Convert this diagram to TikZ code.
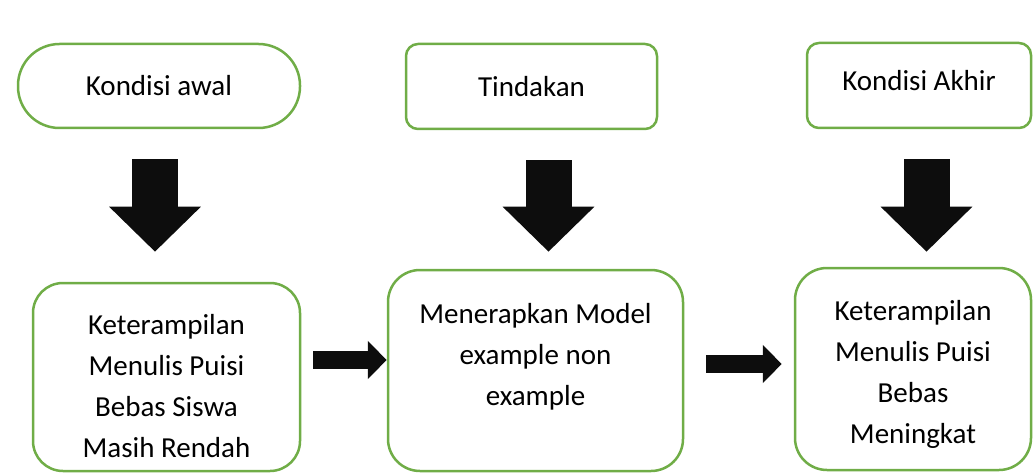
\documentclass[tikz,border=0pt]{standalone}
\usepackage{fontspec}
\setmainfont{Carlito}
\usepackage{xcolor}
\usetikzlibrary{arrows.meta,calc}
\definecolor{LeafGreen}{HTML}{70AD47}
\definecolor{InkBlack}{HTML}{0D0D0D}

\begin{document}
\begin{tikzpicture}[x=1pt, y=1pt,
    stepbox/.style={draw=LeafGreen, line width=2.5pt, rounded corners=12pt,
      inner sep=0pt, align=center, font=\fontsize{29}{41}\selectfont},
    downarrow/.style={draw=InkBlack, line width=46pt,
      -{Triangle[length=45pt, width=89pt, fill=InkBlack]}},
    rightarrow/.style={draw=InkBlack, line width=18pt,
      -{Triangle[length=19pt, width=37pt, fill=InkBlack]}}]
  \useasboundingbox (0,0) rectangle (1033,-473);

  % top row
  \node[stepbox, rounded corners=41.5pt, minimum width=282pt, minimum height=84pt]
    (awal) at (159,-86) {Kondisi awal};
  \node[stepbox, minimum width=251pt, minimum height=85pt]
    (tindakan) at (531.5,-86.5) {Tindakan};
  \node[stepbox, minimum width=224pt, minimum height=85pt, text depth=10pt]
    (akhir) at (919,-85.5) {Kondisi Akhir};

  % bottom row
  \node[stepbox, rounded corners=30pt, minimum width=267pt, minimum height=188pt,
        text height=162pt]
    (rendah) at (166.5,-377) {Keterampilan\\Menulis Puisi\\Bebas Siswa\\Masih Rendah};
  \node[stepbox, rounded corners=32pt, minimum width=295pt, minimum height=201pt,
        text depth=33pt]
    (model) at (535.5,-370.5) {Menerapkan Model\\example non\\example};
  \node[stepbox, rounded corners=32pt, minimum width=236pt, minimum height=202pt,
        text height=153pt]
    (meningkat) at (913,-369) {Keterampilan\\Menulis Puisi\\Bebas\\Meningkat};

  % block arrows
  \draw[downarrow] ($(awal.south)+(-4,-30)$) -- ($(awal.south |- rendah.north)+(-4,30)$);
  \draw[downarrow] ($(tindakan.south)+(17,-30)$) -- ($(tindakan.south |- model.north)+(17,17)$);
  \draw[downarrow] ($(akhir.south)+(7.5,-30)$) -- ($(akhir.south |- meningkat.north)+(7.5,15)$);
  \draw[rightarrow] ($(rendah.east)+(12,17)$) -- ($(rendah.east -| model.west)+(0,17)$);
  \draw[rightarrow] ($(model.east)+(22,6.5)$) -- ($(model.east -| meningkat.west)+(-12,6.5)$);
\end{tikzpicture}
\end{document}
